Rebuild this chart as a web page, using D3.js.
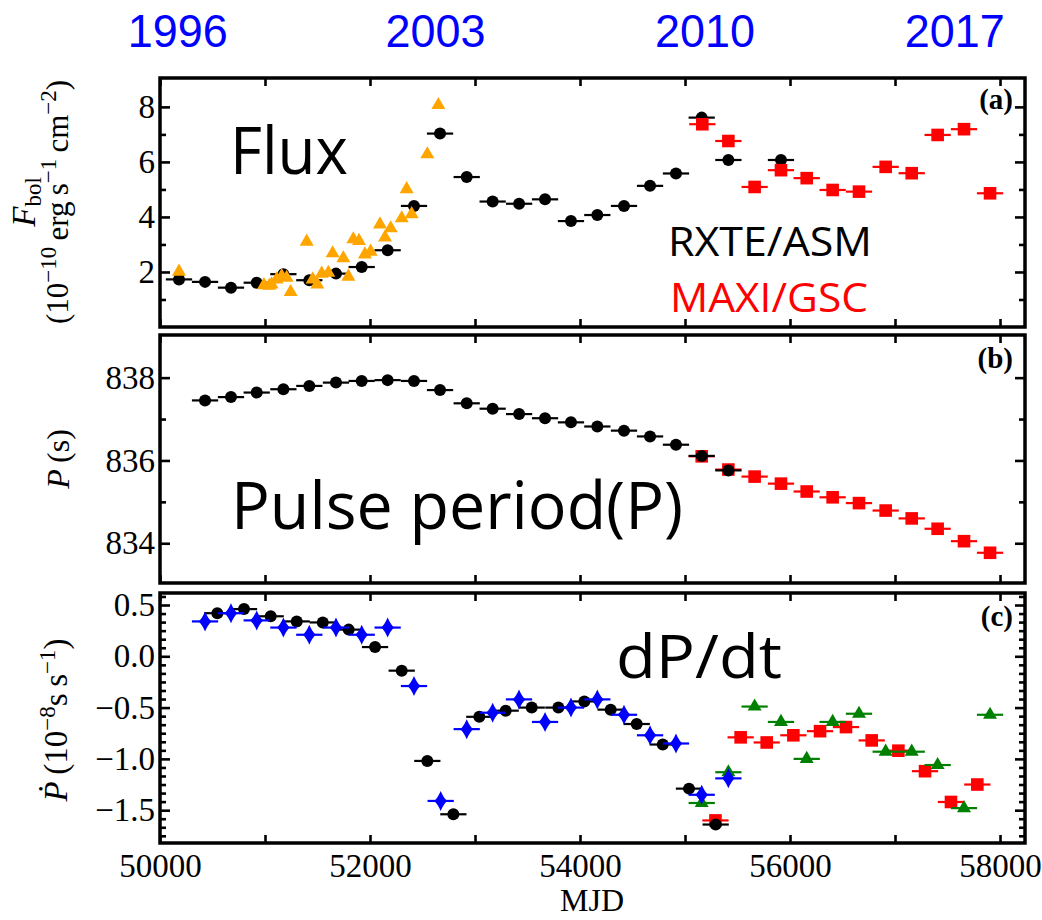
<!DOCTYPE html>
<html><head><meta charset="utf-8">
<script src="https://cdn.jsdelivr.net/npm/d3@7"></script>
<style>body{margin:0;background:#fff}</style>
</head><body>
<svg id="chart" width="1042" height="920"></svg>
<script>
// ---------- data ----------
const yearLabels = ["1996", "2003", "2010", "2017"];
const yearMJD = [50170, 52624, 55190, 57570];

const xMajorTicks = [50000, 52000, 54000, 56000, 58000];
const xMinorTicks = [51000, 53000, 55000, 57000];

// Panel (a): bolometric flux
const asmFlux = [[50181,1.73],[50429,1.64],[50676,1.43],[50921,1.61],[51175,1.92],[51422,1.70],[51676,1.94],[51921,2.18],[52168,2.79],[52419,4.40],[52667,7.03],[52921,5.45],[53168,4.56],[53420,4.48],[53667,4.64],[53914,3.85],[54165,4.07],[54419,4.40],[54667,5.13],[54914,5.58],[55159,7.61],[55413,6.07],[55914,6.07]];
const maxiFlux = [[55165,7.37],[55413,6.76],[55663,5.09],[55914,5.70],[56159,5.41],[56406,4.98],[56657,4.92],[56911,5.82],[57159,5.59],[57406,6.98],[57657,7.19],[57905,4.86]];
const orangeFlux = [[50181,2.01],[50990,1.52],[51041,1.50],[51063,1.55],[51111,1.73],[51159,1.85],[51206,1.79],[51244,1.27],[51397,3.10],[51454,1.73],[51498,1.55],[51540,1.94],[51603,1.97],[51644,2.68],[51746,2.50],[51794,1.83],[51841,3.19],[51895,3.13],[51952,2.64],[52006,2.74],[52095,3.73],[52143,3.25],[52197,3.59],[52302,3.95],[52349,5.01],[52397,4.10],[52546,6.28],[52651,8.07]];
const fluxMajorTicks = [2, 4, 6, 8];
const fluxMinorTicks = [1, 3, 5, 7];

// Panel (b): pulse period
const asmPeriod = [[50429,837.45],[50676,837.53],[50921,837.64],[51175,837.72],[51422,837.80],[51676,837.88],[51921,837.92],[52168,837.94],[52419,837.92],[52667,837.70],[52921,837.38],[53168,837.25],[53420,837.12],[53667,837.02],[53914,836.92],[54165,836.82],[54419,836.72],[54667,836.58],[54914,836.38],[55159,836.11],[55413,835.76]];
const maxiPeriod = [[55159,836.10],[55413,835.78],[55663,835.61],[55914,835.44],[56159,835.25],[56406,835.11],[56657,834.97],[56911,834.79],[57159,834.60],[57406,834.35],[57657,834.05],[57905,833.77]];
const periodMajorTicks = [834, 836, 838];
const periodMinorTicks = [835, 837];

// Panel (c): period derivative
const asmPdot = [[50546,0.42],[50800,0.46],[51054,0.39],[51302,0.34],[51550,0.33],[51797,0.26],[52048,0.09],[52302,-0.14],[52546,-1.02],[52794,-1.54],[53041,-0.59],[53292,-0.53],[53540,-0.50],[53794,-0.50],[54041,-0.44],[54292,-0.52],[54540,-0.66],[54788,-0.86],[55038,-1.29],[55292,-1.64]];
const bluePdot = [[50429,0.34],[50676,0.42],[50921,0.35],[51175,0.28],[51422,0.21],[51676,0.28],[51921,0.21],[52168,0.28],[52419,-0.29],[52673,-1.41],[52921,-0.71],[53168,-0.55],[53419,-0.42],[53667,-0.64],[53914,-0.50],[54165,-0.42],[54419,-0.57],[54667,-0.77],[54914,-0.85],[55159,-1.35],[55413,-1.19]];
const greenPdot = [[55159,-1.43],[55413,-1.13],[55663,-0.49],[55914,-0.64],[56159,-1.00],[56406,-0.64],[56657,-0.56],[56911,-0.93],[57159,-0.93],[57406,-1.06],[57657,-1.48],[57905,-0.57]];
const maxiPdot = [[55290,-1.60],[55530,-0.79],[55778,-0.84],[56032,-0.77],[56286,-0.73],[56533,-0.69],[56778,-0.82],[57032,-0.92],[57286,-1.12],[57533,-1.42],[57784,-1.25]];
const pdotMajorTicks = [-1.5, -1.0, -0.5, 0.0, 0.5];
const pdotMinorTicks = d3.range(-21, 8).map(i => i / 12).filter(v => Math.abs(v * 2 - Math.round(v * 2)) > 1e-6);

const binHalf = 125;

// ---------- layout ----------
const svg = d3.select("#chart");
const X0 = 160, X1 = 1025;
const x = d3.scaleLinear().domain([50000, 58238]).range([X0, X1]);

const panels = [
  {label: "(a)", top: 78, bottom: 327, y: d3.scaleLinear().domain([0, 9.05]).range([327, 78]),
   major: fluxMajorTicks, minor: fluxMinorTicks, fmt: d3.format("d"), labelY: 109},
  {label: "(b)", top: 335, bottom: 583, y: d3.scaleLinear().domain([833.04, 839.03]).range([583, 335]),
   major: periodMajorTicks, minor: periodMinorTicks, fmt: d3.format("d"), labelY: 368},
  {label: "(c)", top: 593, bottom: 843, y: d3.scaleLinear().domain([-1.82, 0.617]).range([843, 593]),
   major: pdotMajorTicks, minor: pdotMinorTicks, fmt: d3.format(".1f"), labelY: 626}
];

const serif = "'Liberation Serif','Times New Roman',serif";
const sans = "'Open Sans','Liberation Sans',sans-serif";

function styleAxis(g, size) {
  g.select(".domain").remove();
  g.selectAll(".tick line").attr("stroke", "#000").attr("stroke-width", 2.6);
  g.selectAll(".tick text").attr("font-family", serif).attr("font-size", size || 33).attr("fill", "#000");
  g.attr("font-family", null).attr("font-size", null);
}

panels.forEach((p, i) => {
  const g = svg.append("g");
  g.append("g").attr("transform", `translate(${X0},0)`)
    .call(d3.axisLeft(p.y).tickValues(p.major).tickSize(-10).tickPadding(5).tickFormat(p.fmt))
    .call(a => styleAxis(a));
  g.append("g").attr("transform", `translate(${X0},0)`)
    .call(d3.axisLeft(p.y).tickValues(p.minor).tickSize(-6).tickFormat(""))
    .call(a => styleAxis(a));
  g.append("g").attr("transform", `translate(${X1},0)`)
    .call(d3.axisRight(p.y).tickValues(p.major).tickSize(-10).tickFormat(""))
    .call(a => styleAxis(a));
  g.append("g").attr("transform", `translate(${X1},0)`)
    .call(d3.axisRight(p.y).tickValues(p.minor).tickSize(-6).tickFormat(""))
    .call(a => styleAxis(a));
  g.append("g").attr("transform", `translate(0,${p.top})`)
    .call(d3.axisTop(x).tickValues(xMajorTicks.concat(xMinorTicks)).tickSize(-8).tickFormat(""))
    .call(a => styleAxis(a));
  const bottom = g.append("g").attr("transform", `translate(0,${p.bottom})`);
  if (i === 2) {
    bottom.call(d3.axisBottom(x).tickValues(xMajorTicks).tickSize(-8).tickPadding(11).tickFormat(d3.format("d")))
      .call(a => styleAxis(a));
    g.append("g").attr("transform", `translate(0,${p.bottom})`)
      .call(d3.axisBottom(x).tickValues(xMinorTicks).tickSize(-8).tickFormat(""))
      .call(a => styleAxis(a));
  } else {
    bottom.call(d3.axisBottom(x).tickValues(xMajorTicks.concat(xMinorTicks)).tickSize(-8).tickFormat(""))
      .call(a => styleAxis(a));
  }
  g.append("rect").attr("x", X0).attr("y", p.top).attr("width", X1 - X0).attr("height", p.bottom - p.top)
    .attr("fill", "none").attr("stroke", "#000").attr("stroke-width", 3.5);
  svg.append("text").attr("x", 1013).attr("y", p.labelY).attr("text-anchor", "end")
    .attr("font-family", serif).attr("font-weight", "bold").attr("font-size", 29).text(p.label);
});

// ---------- marker shapes ----------
function triPath(s) {
  const h = s * 0.866;
  return `M0,${-2*h/3}L${s/2},${h/3}L${-s/2},${h/3}Z`;
}
const shapes = {
  circle: "M6,0A6,6 0 1,1 -6,0A6,6 0 1,1 6,0Z",
  square: "M-6.3,-6.3H6.3V6.3H-6.3Z",
  triangle: triPath(14),
  diamond: "M0,-10Q3,-3 6.5,0Q3,3 0,10Q-3,3 -6.5,0Q-3,-3 0,-10Z"
};

function drawSeries(yScale, data, shape, color, withBars) {
  const g = svg.append("g");
  if (withBars) {
    g.selectAll("line").data(data).join("line")
      .attr("x1", d => x(d[0] - binHalf)).attr("x2", d => x(d[0] + binHalf))
      .attr("y1", d => yScale(d[1])).attr("y2", d => yScale(d[1]))
      .attr("stroke", color).attr("stroke-width", 2.2);
  }
  g.selectAll("path").data(data).join("path")
    .attr("d", shapes[shape])
    .attr("transform", d => `translate(${x(d[0])},${yScale(d[1])})`)
    .attr("fill", color);
}

const ya = panels[0].y, yb = panels[1].y, yc = panels[2].y;
drawSeries(ya, asmFlux, "circle", "#000", true);
drawSeries(ya, maxiFlux, "square", "#ff0000", true);
drawSeries(ya, orangeFlux, "triangle", "#ffa500", false);

drawSeries(yb, maxiPeriod, "square", "#ff0000", true);
drawSeries(yb, asmPeriod, "circle", "#000", true);

drawSeries(yc, maxiPdot, "square", "#ff0000", true);
drawSeries(yc, greenPdot, "triangle", "#008000", true);
drawSeries(yc, asmPdot, "circle", "#000", true);
drawSeries(yc, bluePdot, "diamond", "#0000ff", true);

// ---------- texts ----------
svg.append("g").selectAll("text").data(yearLabels).join("text")
  .attr("x", (d, i) => x(yearMJD[i])).attr("y", 47).attr("text-anchor", "middle")
  .attr("font-family", "'Liberation Sans',Arial,sans-serif").attr("font-size", 47)
  .attr("textLength", 100).attr("lengthAdjust", "spacingAndGlyphs")
  .attr("fill", "#0000ff").text(d => d);

function ann(txt, x0, y0, size, len, color) {
  svg.append("text").attr("x", x0).attr("y", y0).attr("font-family", sans).attr("font-size", size)
    .attr("fill", color || "#000").attr("textLength", len).attr("lengthAdjust", "spacingAndGlyphs").text(txt);
}
ann("Flux", 230, 174, 66, 118);
ann("RXTE/ASM", 668, 256, 41, 204);
ann("MAXI/GSC", 670, 312, 41, 198, "#ff0000");
ann("Pulse period(P)", 231, 529, 66, 452);
ann("dP/dt", 616, 678, 60, 166);

svg.append("text").attr("x", 592).attr("y", 911).attr("text-anchor", "middle")
  .attr("font-family", serif).attr("font-size", 32).text("MJD");

function mathLabel(cy, lines) {
  const g = svg.append("g").attr("transform", `translate(0,${cy}) rotate(-90)`);
  lines.forEach(line => {
    const t = g.append("text").attr("x", 0).attr("y", line.base).attr("text-anchor", "middle")
      .attr("font-family", serif).attr("font-size", line.size || 30);
    line.parts.forEach(pt => {
      const s = t.append("tspan").text(pt.t);
      if (pt.i) s.attr("font-style", "italic");
      if (pt.sz) s.attr("font-size", pt.sz);
      if (pt.dy) s.attr("dy", pt.dy);
    });
  });
}
mathLabel(202, [
  {base: 35, size: 33, parts: [{t: "F", i: true}, {t: "bol", sz: 23, dy: 6}]},
  {base: 68, size: 31, parts: [{t: "(10"}, {t: "\u221210", sz: 23, dy: -12}, {t: "\u2009erg\u2009s", dy: 12},
                     {t: "\u22121", sz: 23, dy: -12}, {t: "\u2009cm", dy: 12}, {t: "\u22122", sz: 23, dy: -12}, {t: ")", dy: 12}]}
]);
mathLabel(459, [
  {base: 69, size: 32, parts: [{t: "P", i: true}, {t: "\u2009(s)"}]}
]);
mathLabel(720, [
  {base: 67, size: 33, parts: [{t: "\u1E56", i: true}, {t: "\u2009(10"}, {t: "\u22128", sz: 23, dy: -12}, {t: "s\u2009s", dy: 12},
                     {t: "\u22121", sz: 23, dy: -12}, {t: ")", dy: 12}]}
]);
</script>
</body></html>
